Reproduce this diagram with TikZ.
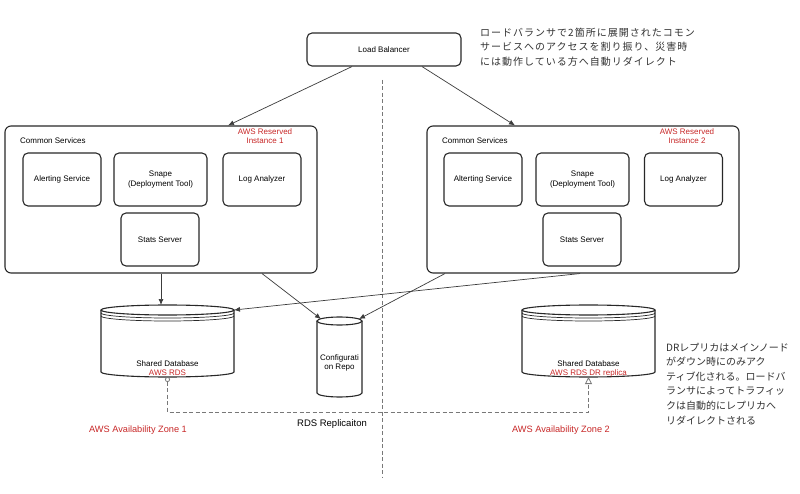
\documentclass[tikz,border=0pt]{standalone}
\usepackage{fontspec}
\setmainfont{Liberation Sans}
\newfontfamily\jp{Noto Sans CJK JP}
\newfontfamily\jpwide{Noto Sans CJK JP}[LetterSpace=10]
\usetikzlibrary{arrows.meta,calc}
\definecolor{awsred}{RGB}{200,40,40}
\definecolor{lineclr}{RGB}{40,40,40}
\definecolor{conclr}{RGB}{60,60,60}
\definecolor{dashclr}{RGB}{120,120,120}
\definecolor{noteclr}{RGB}{50,50,50}
\newcommand\mydb[3]{% name, x radius, y radius
  \draw[boxline] ($(#1.north west)+(0,-#3)$) -- ($(#1.south west)+(0,#3)$)
     arc[start angle=180,end angle=360,x radius=#2,y radius=#3] -- ($(#1.north east)+(0,-#3)$);
  \draw[boxline] ($(#1.north)+(0,-#3)$) ellipse[x radius=#2,y radius=#3];
}
\newcommand\mydblines[3]{%
  \draw[boxline,line width=0.7pt] ($(#1.north west)+(0,-#3-3)$) arc[start angle=180,end angle=360,x radius=#2,y radius=#3];
  \draw[boxline,line width=0.7pt] ($(#1.north west)+(0,-#3-6)$) arc[start angle=180,end angle=360,x radius=#2,y radius=#3];
}
\tikzset{
  boxline/.style={draw=lineclr,line width=1.1pt},
  outerbox/.style={boxline,rounded corners=6pt,minimum width=312pt,minimum height=147pt,inner sep=0pt},
  svcbox/.style={boxline,rounded corners=5pt,minimum width=78pt,minimum height=53pt,inner sep=0pt,align=center,font=\fontsize{8}{9.5}\selectfont},
  ghost/.style={inner sep=0pt,outer sep=0pt},
  lbl/.style={inner sep=0pt,font=\fontsize{8}{9}\selectfont,align=center},
  redlbl/.style={lbl,text=awsred},
  zonelbl/.style={inner sep=0pt,font=\fontsize{9.2}{11}\selectfont,text=awsred},
  conn/.style={draw=conclr,line width=0.7pt,-{Latex[length=6pt,width=5pt]}},
  repl/.style={draw=dashclr,line width=1pt,dash pattern=on 4pt off 2.5pt,
    {Circle[open,length=5pt,width=5pt,line width=0.8pt]}-{Triangle[open,length=7pt,width=7pt,line width=0.8pt]}},
  note/.style={inner sep=0pt,anchor=north west,align=left,text=noteclr}
}
\begin{document}
\begin{tikzpicture}[x=1pt,y=1pt]
\useasboundingbox[fill=white] (0,0) rectangle (800,-494);

% zone divider
\draw[draw=dashclr,line width=1pt,dash pattern=on 4pt off 2.5pt] (382,-80) -- (382,-477);

% load balancer
\node[boxline,rounded corners=5pt,minimum width=154pt,minimum height=33pt,inner sep=0pt,font=\fontsize{8}{9}\selectfont] (LB) at (384,-49.5) {Load Balancer};

% common services boxes
\node[outerbox] (CS1) at (161,-199.5) {};
\node[outerbox] (CS2) at (583,-199.5) {};

\node[lbl,anchor=west] (CS1t) at (20,-141) {Common Services};
\node[lbl,anchor=west] (CS2t) at (442,-141) {Common Services};
\node[redlbl] (RI1) at (265,-136.5) {AWS Reserved\\Instance 1};
\node[redlbl] (RI2) at (687,-136.5) {AWS Reserved\\Instance 2};

\node[svcbox] (AL1) at (62,-179.5) {Alerting Service};
\node[svcbox,minimum width=93pt] (SN1) at (160.5,-179.5) {Snape\\(Deployment Tool)};
\node[svcbox] (LA1) at (262,-179.5) {Log Analyzer};
\node[svcbox] (ST1) at (160,-239.5) {Stats Server};

\node[svcbox] (AL2) at (483,-179.5) {Alterting Service};
\node[svcbox,minimum width=93pt] (SN2) at (582.5,-179.5) {Snape\\(Deployment Tool)};
\node[svcbox] (LA2) at (683.5,-179.5) {Log Analyzer};
\node[svcbox] (ST2) at (582,-239.5) {Stats Server};

% databases
\node[ghost,minimum width=133pt,minimum height=72pt] (DB1) at (167.5,-341) {};
\node[ghost,minimum width=133pt,minimum height=72pt] (DB2) at (588.5,-341) {};
\node[ghost,minimum width=45pt,minimum height=80pt] (RP) at (339.5,-357) {};
\mydb{DB1}{66.5}{5}\mydblines{DB1}{66.5}{5}
\mydb{DB2}{66.5}{5}\mydblines{DB2}{66.5}{5}
\mydb{RP}{22.5}{4}

\node[lbl] (DB1a) at (167.5,-364) {Shared Database};
\node[redlbl] (DB1b) at (167.5,-373) {AWS RDS};
\node[lbl] (DB2a) at (588.5,-364) {Shared Database};
\node[redlbl] (DB2b) at (588.5,-373) {AWS RDS DR replica};
\node[lbl] (RPt) at (339.5,-363) {Configurati\\on Repo};

% connectors
\draw[conn] ([xshift=-32pt]LB.south) -- ([xshift=67pt]CS1.north);
\draw[conn] ([xshift=38pt]LB.south) -- ([xshift=-68pt]CS2.north);
\draw[conn] (CS1.south) -- (CS1.south |- DB1.north);
\draw[conn] ([xshift=101pt]CS1.south) -- ([xshift=4pt,yshift=-2pt]RP.north west);
\draw[conn] ([xshift=-138pt]CS2.south) -- ([xshift=-3pt,yshift=-2pt]RP.north east);
\draw[conn] ([xshift=-3pt]CS2.south) -- ([yshift=-5pt]DB1.north east);

% replication
\draw[repl] (DB1.south) -- ++(0,-35) -| (DB2.south);
\node[inner sep=0pt,font=\fontsize{9.5}{11}\selectfont] (RL) at (332,-424) {RDS Replicaiton};

\node[zonelbl] (Z1) at (138,-430) {AWS Availability Zone 1};
\node[zonelbl] (Z2) at (561,-430) {AWS Availability Zone 2};

% notes
\node[note,font=\jpwide\fontsize{10}{14.3}\selectfont] (N1) at (480,-28)
 {ロードバランサで2箇所に展開されたコモン\\サービスへのアクセスを割り振り、災害時\\には動作している方へ自動リダイレクト};
\node[note,font=\jp\fontsize{10}{14.6}\selectfont] (N2) at (666,-342.5)
 {DRレプリカはメインノード\\がダウン時にのみアク\\ティブ化される。ロードバ\\ランサによってトラフィッ\\クは自動的にレプリカへ\\リダイレクトされる};
\end{tikzpicture}
\end{document}
